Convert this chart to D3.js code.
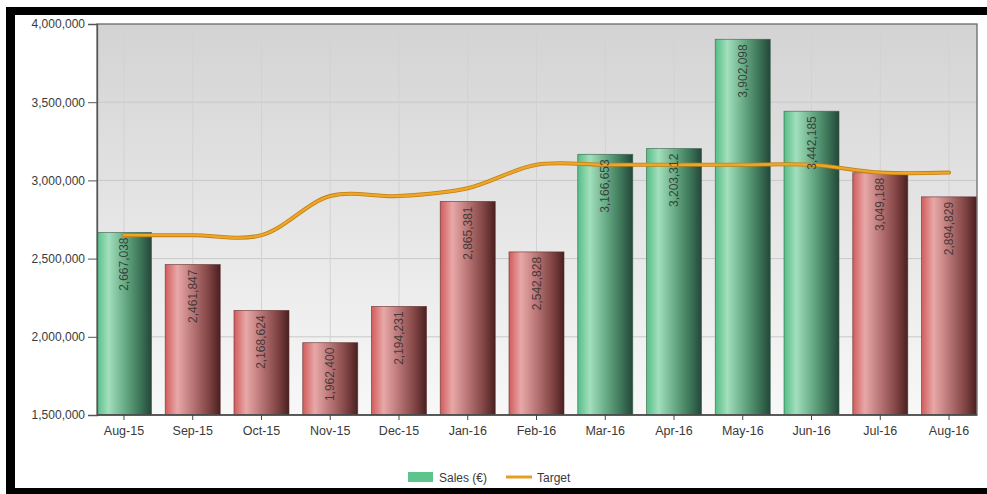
<!DOCTYPE html>
<html>
<head>
<meta charset="utf-8">
<script src="https://cdn.jsdelivr.net/npm/d3@7"></script>
<style>
html,body{margin:0;padding:0;background:#fff;}
svg{display:block;font-family:"Liberation Sans",Arial,sans-serif;}
</style>
</head>
<body>
<svg id="chart" width="987" height="494"></svg>
<script>
const months = ["Aug-15","Sep-15","Oct-15","Nov-15","Dec-15","Jan-16","Feb-16","Mar-16","Apr-16","May-16","Jun-16","Jul-16","Aug-16"];
const sales = [2667038,2461847,2168624,1962400,2194231,2865381,2542828,3166653,3203312,3902098,3442185,3049188,2894829];
const target = [2650000,2650000,2650000,2900000,2900000,2950000,3100000,3100000,3100000,3100000,3100000,3050000,3050000];
const yTicks = [1500000,2000000,2500000,3000000,3500000,4000000];
const legendLabels = ["Sales (€)","Target"];

const svg = d3.select("#chart");
const W = 987, H = 494;
const plot = {left:97, right:977, top:24, bottom:415};

const defs = svg.append("defs");
const bg = defs.append("linearGradient").attr("id","bg").attr("x1",0).attr("x2",0).attr("y1",0).attr("y2",1);
bg.append("stop").attr("offset","0%").attr("stop-color","#d3d3d3");
bg.append("stop").attr("offset","100%").attr("stop-color","#f8f8f8");

function barGrad(id, stops){
  const g = defs.append("linearGradient").attr("id",id).attr("x1",0).attr("x2",1).attr("y1",0).attr("y2",0);
  stops.forEach(s=>g.append("stop").attr("offset",s[0]).attr("stop-color",s[1]));
}
barGrad("green",[["0%","#55be86"],["22%","#a3dfbd"],["50%","#6aae88"],["80%","#3c7457"],["100%","#24473a"]]);
barGrad("red",[["0%","#d25c5c"],["22%","#e8a8a8"],["50%","#b97575"],["80%","#7f4242"],["100%","#4a2020"]]);
const clip = defs.append("clipPath").attr("id","pclip");
clip.append("rect").attr("x",plot.left).attr("y",plot.top).attr("width",plot.right-plot.left).attr("height",plot.bottom-plot.top);

const x = d3.scaleBand().domain(months).range([89.6, 983.4]).paddingInner(0.2).paddingOuter(0.1);
const y = d3.scaleLinear().domain([1500000,4000000]).range([plot.bottom, plot.top]);

// plot background
svg.append("rect").attr("x",plot.left).attr("y",plot.top).attr("width",plot.right-plot.left).attr("height",plot.bottom-plot.top).attr("fill","url(#bg)");

// gridlines
const grid = svg.append("g").attr("clip-path","url(#pclip)");
grid.selectAll("line.h").data(yTicks).enter().append("line")
  .attr("x1",plot.left).attr("x2",plot.right).attr("y1",d=>y(d)).attr("y2",d=>y(d))
  .attr("stroke","#c9c9c9").attr("stroke-width",1);
grid.selectAll("line.v").data(months).enter().append("line")
  .attr("x1",d=>x(d)+x.bandwidth()/2).attr("x2",d=>x(d)+x.bandwidth()/2)
  .attr("y1",plot.top).attr("y2",plot.bottom)
  .attr("stroke","#d2d2d2").attr("stroke-width",1);

// bars
const gb = svg.append("g").attr("clip-path","url(#pclip)");
gb.selectAll("rect").data(months).enter().append("rect")
  .attr("x",d=>x(d)).attr("width",x.bandwidth())
  .attr("y",(d,i)=>y(sales[i])).attr("height",(d,i)=>plot.bottom-y(sales[i]))
  .attr("fill",(d,i)=>sales[i]>=target[i]?"url(#green)":"url(#red)")
  .attr("stroke",(d,i)=>sales[i]>=target[i]?"#2c5a43":"#5a2828").attr("stroke-width",0.8).attr("stroke-opacity",0.7);

// target line
const line = d3.line().x((d,i)=>x(months[i])+x.bandwidth()/2).y(d=>y(d)).curve(d3.curveCatmullRom.alpha(0.5));
svg.append("path").datum(target).attr("d",line).attr("fill","none").attr("stroke","#c27f12").attr("stroke-width",4).attr("stroke-linecap","round");
svg.append("path").datum(target).attr("d",line).attr("fill","none").attr("stroke","#eda62a").attr("stroke-width",2.4).attr("stroke-linecap","round");

// bar labels
const fmt = d3.format(",");
svg.append("g").selectAll("text").data(months).enter().append("text")
  .attr("transform",(d,i)=>`translate(${x(d)+x.bandwidth()/2},${y(sales[i])+5}) rotate(-90)`)
  .attr("text-anchor","end").attr("dominant-baseline","central")
  .attr("font-size","12px").attr("fill","#2e2e2e").attr("fill-opacity",0.85)
  .text((d,i)=>fmt(sales[i]));

// plot frame
svg.append("rect").attr("x",plot.left).attr("y",plot.top).attr("width",plot.right-plot.left).attr("height",plot.bottom-plot.top)
  .attr("fill","none").attr("stroke","#6a6a6a").attr("stroke-width",1.3);

// y axis
const yAxis = d3.axisLeft(y).tickValues(yTicks).tickFormat(fmt).tickSize(9).tickPadding(3);
const gy = svg.append("g").attr("transform",`translate(${plot.left},0)`).call(yAxis);
gy.select(".domain").attr("stroke","#555").attr("stroke-width",1.3);
gy.selectAll(".tick line").attr("stroke","#555");
gy.selectAll(".tick text").attr("font-size","12px").attr("fill","#3a3a3a").attr("font-family","Liberation Sans, Arial, sans-serif");

// x axis
const xAxis = d3.axisBottom(x).tickSize(5).tickPadding(6);
const gx = svg.append("g").attr("transform",`translate(0,${plot.bottom})`).call(xAxis);
gx.select(".domain").remove();
gx.append("line").attr("x1",plot.left).attr("x2",plot.right).attr("y1",0).attr("y2",0).attr("stroke","#444").attr("stroke-width",1.6);
gx.selectAll(".tick line").attr("stroke","#444");
gx.selectAll(".tick text").attr("font-size","12.5px").attr("fill","#3a3a3a").attr("font-family","Liberation Sans, Arial, sans-serif");

// legend
const lg = svg.append("g");
lg.append("rect").attr("x",408).attr("y",472).attr("width",25).attr("height",10).attr("fill","#5cc48c");
lg.append("text").attr("x",439).attr("y",481.5).attr("font-size","12px").attr("fill","#3a3a3a").text(legendLabels[0]);
lg.append("line").attr("x1",506).attr("x2",532).attr("y1",477).attr("y2",477).attr("stroke","#e59e24").attr("stroke-width",3);
lg.append("text").attr("x",537).attr("y",481.5).attr("font-size","12px").attr("fill","#3a3a3a").text(legendLabels[1]);

// black frame
svg.append("rect").attr("x",6).attr("y",7).attr("width",W-6).attr("height",8).attr("fill","#000");
svg.append("rect").attr("x",6).attr("y",7).attr("width",9).attr("height",H-7).attr("fill","#000");
svg.append("rect").attr("x",6).attr("y",488).attr("width",W-6).attr("height",6).attr("fill","#000");
</script>
</body>
</html>
